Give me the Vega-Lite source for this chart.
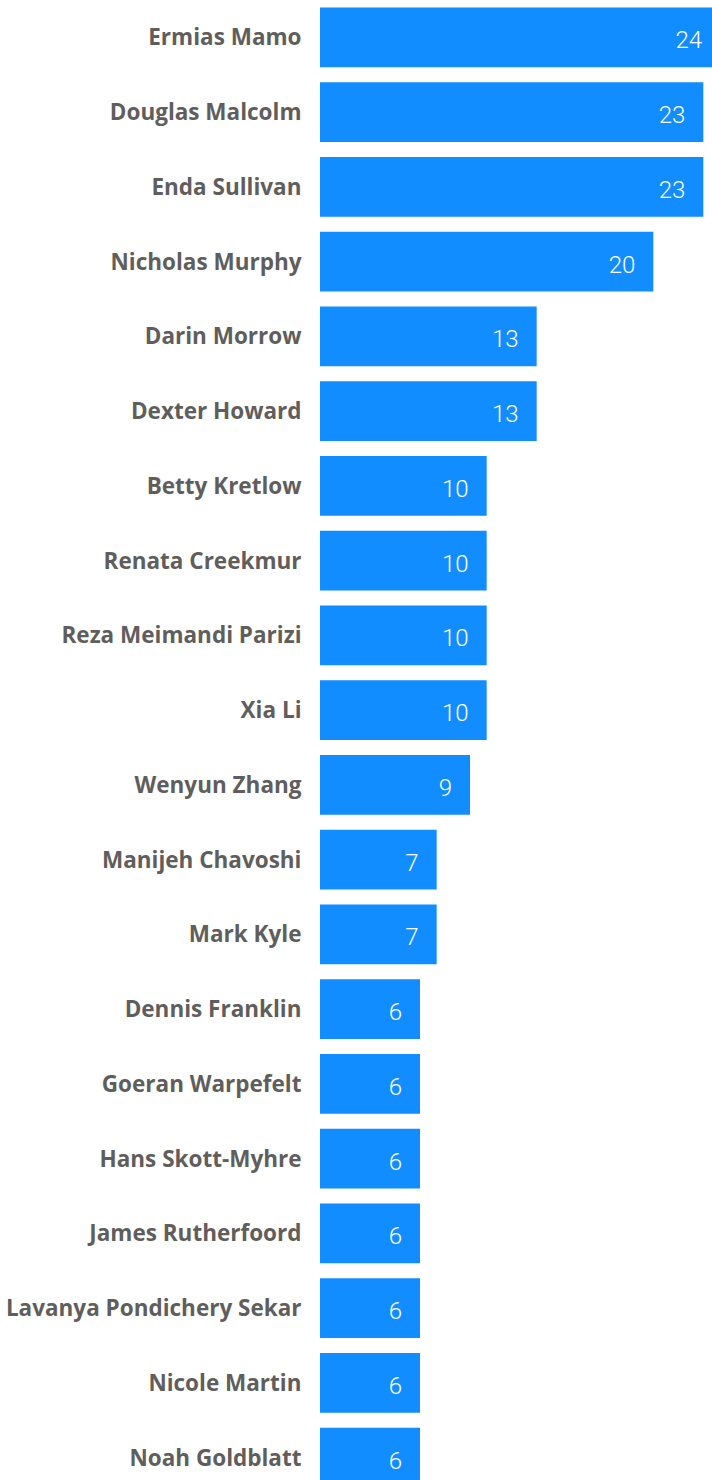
{
  "$schema": "https://vega.github.io/schema/vega-lite/v6.json",
  "width": 400,
  "height": 1495,
  "autosize": {"type": "none"},
  "padding": {"left": 320, "top": 0, "right": 0, "bottom": 0},
  "background": "white",
  "config": {"view": {"stroke": null}},
  "data": {
    "values": [
      {"name": "Ermias Mamo", "value": 24},
      {"name": "Douglas Malcolm", "value": 23},
      {"name": "Enda Sullivan", "value": 23},
      {"name": "Nicholas Murphy", "value": 20},
      {"name": "Darin Morrow", "value": 13},
      {"name": "Dexter Howard", "value": 13},
      {"name": "Betty Kretlow", "value": 10},
      {"name": "Renata Creekmur", "value": 10},
      {"name": "Reza Meimandi Parizi", "value": 10},
      {"name": "Xia Li", "value": 10},
      {"name": "Wenyun Zhang", "value": 9},
      {"name": "Manijeh Chavoshi", "value": 7},
      {"name": "Mark Kyle", "value": 7},
      {"name": "Dennis Franklin", "value": 6},
      {"name": "Goeran Warpefelt", "value": 6},
      {"name": "Hans Skott-Myhre", "value": 6},
      {"name": "James Rutherfoord", "value": 6},
      {"name": "Lavanya Pondichery Sekar", "value": 6},
      {"name": "Nicole Martin", "value": 6},
      {"name": "Noah Goldblatt", "value": 6}
    ]
  },
  "encoding": {
    "y": {
      "field": "name",
      "type": "nominal",
      "sort": null,
      "scale": {"paddingInner": 0.2, "paddingOuter": 0.1},
      "axis": {
        "title": null,
        "domain": false,
        "ticks": false,
        "labelPadding": 19,
        "labelFont": "Open Sans",
        "labelFontWeight": "bold",
        "labelFontSize": 22.5,
        "labelColor": "#605E5C",
        "labelBaseline": "alphabetic",
        "labelOffset": 8,
        "labelLimit": 400
      }
    }
  },
  "layer": [
    {
      "mark": {"type": "bar", "color": "#118DFF"},
      "encoding": {
        "x": {"field": "value", "type": "quantitative", "scale": {"domain": [0, 24]}, "axis": null}
      }
    },
    {
      "mark": {"type": "text", "align": "right", "baseline": "alphabetic", "dx": -18, "dy": 11, "color": "white", "font": "Roboto", "fontWeight": 300, "fontSize": 24},
      "encoding": {
        "x": {"field": "value", "type": "quantitative"},
        "text": {"field": "value", "type": "quantitative"}
      }
    }
  ]
}
